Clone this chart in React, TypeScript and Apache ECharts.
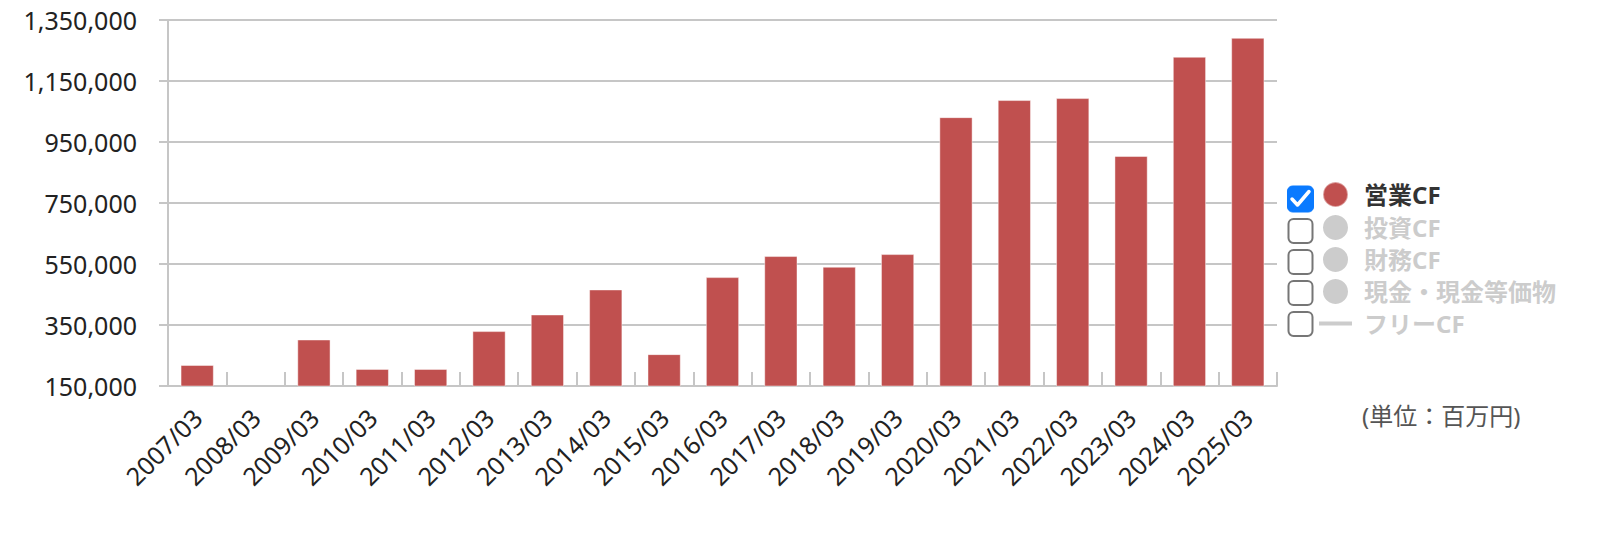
import React, { useEffect, useRef } from "react";
import * as echarts from "echarts";

const categories = [
  "2007/03", "2008/03", "2009/03", "2010/03", "2011/03", "2012/03", "2013/03",
  "2014/03", "2015/03", "2016/03", "2017/03", "2018/03", "2019/03", "2020/03",
  "2021/03", "2022/03", "2023/03", "2024/03", "2025/03",
];

const operatingCF: (number | null)[] = [
  219000, null, 302500, 206000, 206000, 330000, 384500,
  466500, 254500, 507000, 576000, 541000, 582500, 1031500,
  1087500, 1094000, 904000, 1229500, 1291500,
];

const seriesNames = ["営業CF", "投資CF", "財務CF", "現金・現金等価物", "フリーCF"];
const yMin = 150000;
const yMax = 1350000;
const yStep = 200000;
const unitLabel = "(単位：百万円)";

const FONT = "'Noto Sans', 'Noto Sans CJK JP', sans-serif";

export default function App() {
  const ref = useRef<HTMLDivElement>(null);

  useEffect(() => {
    if (!ref.current) return;
    const chart = echarts.init(ref.current, undefined, { renderer: "svg" });

    const boxTops = [186, 218, 249, 280, 311];
    const checkboxes: any[] = boxTops.map((t, i) =>
      i === 0
        ? {
            type: "rect",
            shape: { x: 1287.5, y: t, width: 26, height: 26, r: 5 },
            style: { fill: "#0a7aff", stroke: "#0a7aff", lineWidth: 1 },
            silent: true,
          }
        : {
            type: "rect",
            shape: { x: 1288.5, y: t + 1, width: 24, height: 24, r: 5 },
            style: { fill: "#fff", stroke: "#767676", lineWidth: 2 },
            silent: true,
          }
    );
    checkboxes.push({
      type: "polyline",
      shape: { points: [[1292, 199], [1297.5, 205], [1309, 191.5]] },
      style: { stroke: "#fff", lineWidth: 3.5, fill: "none", lineCap: "round", lineJoin: "round" },
      silent: true,
    });
    checkboxes.push({
      type: "text",
      x: 1362,
      y: 415,
      style: {
        text: unitLabel,
        fontSize: 24,
        fontFamily: FONT,
        fill: "#555",
        verticalAlign: "middle",
        align: "left",
      },
      silent: true,
    });

    const option: any = {
      animation: false,
      textStyle: { fontFamily: FONT },
      grid: { left: 168, right: 343, top: 20, bottom: 155, containLabel: false },
      legend: {
        orient: "vertical",
        left: 1319,
        top: 181,
        padding: 0,
        itemWidth: 33,
        itemHeight: 25,
        itemGap: 7,
        inactiveColor: "#cccccc",
        textStyle: {
          fontSize: 24,
          fontWeight: "bold",
          color: "#333",
          fontFamily: FONT,
          lineHeight: 25,
          padding: [0, 0, 0, 7],
        },
        data: [
          { name: seriesNames[0], icon: "circle" },
          { name: seriesNames[1], icon: "circle" },
          { name: seriesNames[2], icon: "circle" },
          { name: seriesNames[3], icon: "circle" },
          { name: seriesNames[4], icon: "path://M0,0L33,0L33,4L0,4Z" },
        ],
        selected: {
          [seriesNames[0]]: true,
          [seriesNames[1]]: false,
          [seriesNames[2]]: false,
          [seriesNames[3]]: false,
          [seriesNames[4]]: false,
        },
      },
      xAxis: {
        type: "category",
        data: categories,
        boundaryGap: true,
        axisLine: { show: true, lineStyle: { color: "#c6c6c6", width: 2 } },
        axisTick: {
          show: true,
          inside: true,
          length: 14,
          alignWithLabel: false,
          lineStyle: { color: "#c6c6c6", width: 2 },
        },
        axisLabel: {
          rotate: 45,
          interval: 0,
          margin: 27,
          fontSize: 25,
          color: "#222",
          fontFamily: FONT,
        },
      },
      yAxis: {
        type: "value",
        min: yMin,
        max: yMax,
        interval: yStep,
        axisLine: { show: true, lineStyle: { color: "#c6c6c6", width: 2 } },
        axisTick: { show: true, inside: false, length: 9, lineStyle: { color: "#c6c6c6", width: 2 } },
        splitLine: { show: true, lineStyle: { color: "#c6c6c6", width: 2 } },
        axisLabel: {
          margin: 31,
          fontSize: 25,
          color: "#222",
          fontFamily: FONT,
          formatter: (v: number) => v.toLocaleString("en-US"),
        },
      },
      series: [
        {
          name: seriesNames[0],
          type: "bar",
          data: operatingCF,
          barWidth: "57%",
          itemStyle: {
            color: "#c0504f",
            borderColor: "rgba(255,255,255,0.45)",
            borderWidth: 1,
          },
        },
        { name: seriesNames[1], type: "bar", data: [], itemStyle: { color: "#4f81bd" } },
        { name: seriesNames[2], type: "bar", data: [], itemStyle: { color: "#9bbb59" } },
        { name: seriesNames[3], type: "bar", data: [], itemStyle: { color: "#8064a2" } },
        {
          name: seriesNames[4],
          type: "line",
          data: [],
          symbol: "none",
          lineStyle: { width: 4, color: "#f79646" },
          itemStyle: { color: "#f79646" },
        },
      ],
      graphic: checkboxes,
    };

    chart.setOption(option);
    return () => chart.dispose();
  }, []);

  return (
    <div
      ref={ref}
      style={{ position: "absolute", left: 0, top: 0, width: 1620, height: 541 }}
    />
  );
}
